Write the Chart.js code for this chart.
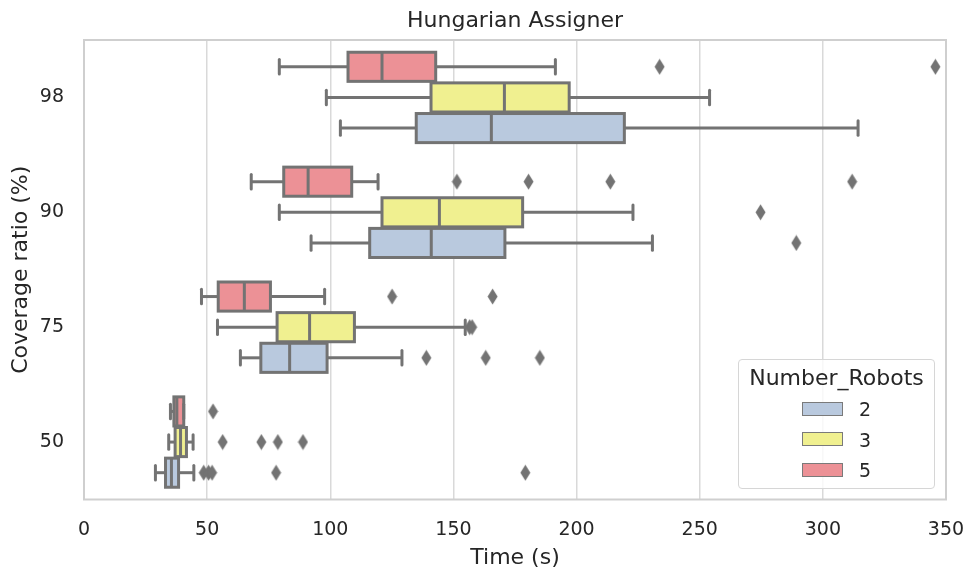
<!DOCTYPE html>
<html>
<head>
<meta charset="utf-8">
<script src="https://cdn.jsdelivr.net/npm/chart.js@4.4.0/dist/chart.umd.min.js"></script>
<style>
html, body { margin: 0; padding: 0; background: #fff; }
#wrap { position: relative; width: 968px; height: 571px; }
#legend {
    position: absolute; left: 738px; top: 359px; width: 195px; height: 128px;
    border: 1px solid #d6d6d6; border-radius: 4px; background: rgba(255,255,255,0.8);
    font-family: "DejaVu Sans"; color: #262626;
}
#legend .title { position: absolute; left: 0; right: 0; top: 5px; text-align: center; font-size: 22px; line-height: 26px; }
#legend .row { position: absolute; left: 0; height: 30px; font-size: 19px; }
#legend .sw { position: absolute; left: 63px; top: 7.5px; width: 39px; height: 12px; border: 1.5px solid #7a7a7a; }
#legend .lab { position: absolute; left: 120px; line-height: 30px; }
</style>
</head>
<body>
<div id="wrap">
<canvas id="chart" width="968" height="571"></canvas>
<div id="legend"><div class="title">Number_Robots</div></div>
</div>
<script>
const coverage = ['98', '90', '75', '50'];
const robots = ['2', '3', '5'];

// one value per coverage level (98, 90, 75, 50)
const lo2 = [104.1, 92.2, 63.5, 29.0];
const q1_2 = [134.9, 116.0, 71.8, 33.1];
const med2 = [165.4, 141.0, 83.5, 35.5];
const q3_2 = [219.4, 170.9, 98.7, 38.4];
const hi2 = [314.3, 230.8, 129.1, 44.6];
const out2 = [[], [289.2], [139.0, 163.1, 185.1], [48.6, 50.6, 52.0, 78.0, 179.2]];

const lo3 = [98.4, 79.3, 54.2, 34.4];
const q1_3 = [140.9, 121.0, 78.4, 37.0];
const med3 = [170.7, 144.3, 91.6, 39.2];
const q3_3 = [197.0, 178.1, 109.8, 41.6];
const hi3 = [254.0, 222.9, 154.8, 44.3];
const out3 = [[], [274.7], [156.6, 157.6], [56.3, 72.0, 78.7, 88.9]];

const lo5 = [79.3, 67.9, 47.7, 35.1];
const q1_5 = [107.2, 81.1, 54.5, 36.5];
const med5 = [121.0, 91.0, 65.1, 37.7];
const q3_5 = [142.8, 108.7, 75.7, 40.5];
const hi5 = [191.4, 119.4, 97.7, 40.5];
const out5 = [[233.7, 345.7], [151.4, 180.5, 213.7, 311.9], [125.1, 165.9], [52.4]];

const xTicks = [0, 50, 100, 150, 200, 250, 300, 350];

const colors = { '2': '#b9c9de', '3': '#f0f090', '5': '#ec9196' };
const gray = '#737373';
const textColor = '#262626';

// top to bottom inside each coverage group: 5, 3, 2
const groups = [
    { name: '5', lo: lo5, q1: q1_5, med: med5, q3: q3_5, hi: hi5, out: out5, off: -0.8 / 3 },
    { name: '3', lo: lo3, q1: q1_3, med: med3, q3: q3_3, hi: hi3, out: out3, off: 0 },
    { name: '2', lo: lo2, q1: q1_2, med: med2, q3: q3_2, hi: hi2, out: out2, off: 0.8 / 3 }
];

// thin diamond marker like seaborn's fliers
const dia = document.createElement('canvas');
dia.width = 11; dia.height = 17;
const dctx = dia.getContext('2d');
dctx.fillStyle = gray;
dctx.beginPath();
dctx.moveTo(5.5, 0.5); dctx.lineTo(10.5, 8.5); dctx.lineTo(5.5, 16.5); dctx.lineTo(0.5, 8.5);
dctx.closePath();
dctx.fill();

const datasets = [];
groups.forEach(g => {
    datasets.push({
        label: g.name,
        data: coverage.map((c, i) => ({ x: [g.q1[i], g.q3[i]], y: i + g.off })),
        backgroundColor: colors[g.name],
        borderWidth: 0,
        grouped: false,
        categoryPercentage: 1,
        barPercentage: 0.95
    });
});
groups.forEach(g => {
    const pts = [];
    g.out.forEach((list, i) => list.forEach(v => pts.push({ x: v, y: i + g.off })));
    datasets.push({
        type: 'scatter',
        label: g.name + ' outliers',
        data: pts,
        pointStyle: dia,
        pointRadius: 6
    });
});

function line(ctx, x1, y1, x2, y2) {
    ctx.beginPath(); ctx.moveTo(x1, y1); ctx.lineTo(x2, y2); ctx.stroke();
}

const boxPlugin = {
    id: 'boxes',
    beforeDatasetsDraw(chart) {
        const a = chart.chartArea, ctx = chart.ctx;
        ctx.save();
        ctx.strokeStyle = '#cfcfcf';
        ctx.lineWidth = 2;
        ctx.strokeRect(a.left, a.top, a.right - a.left, a.bottom - a.top);
        ctx.restore();
    },
    afterDatasetsDraw(chart) {
        const ctx = chart.ctx, xs = chart.scales.x;
        ctx.save();
        ctx.strokeStyle = gray;
        ctx.lineWidth = 3;
        groups.forEach((g, di) => {
            chart.getDatasetMeta(di).data.forEach((bar, i) => {
                const yc = bar.y, h = bar.height;
                const xlo = xs.getPixelForValue(g.lo[i]);
                const xq1 = xs.getPixelForValue(g.q1[i]);
                const xmed = xs.getPixelForValue(g.med[i]);
                const xq3 = xs.getPixelForValue(g.q3[i]);
                const xhi = xs.getPixelForValue(g.hi[i]);
                ctx.lineCap = 'butt';
                line(ctx, xlo, yc, xq1, yc);
                line(ctx, xq3, yc, xhi, yc);
                ctx.strokeRect(xq1, yc - h / 2, xq3 - xq1, h);
                line(ctx, xmed, yc - h / 2, xmed, yc + h / 2);
                ctx.lineCap = 'round';
                line(ctx, xlo, yc - h / 4, xlo, yc + h / 4);
                line(ctx, xhi, yc - h / 4, xhi, yc + h / 4);
            });
        });
        ctx.restore();
    }
};

const ctx = document.getElementById('chart');
new Chart(ctx, {
    type: 'bar',
    data: { datasets: datasets },
    options: {
        responsive: false,
        animation: false,
        indexAxis: 'y',
        layout: { padding: { left: 0, right: 22, top: 0, bottom: 0 } },
        plugins: {
            legend: { display: false },
            tooltip: { enabled: false },
            title: {
                display: true,
                text: 'Hungarian Assigner',
                fullSize: false,
                color: textColor,
                font: { family: 'DejaVu Sans', size: 22, weight: 'normal' },
                padding: { top: 8.5, bottom: 5.1 }
            }
        },
        scales: {
            x: {
                type: 'linear',
                min: 0,
                max: 350,
                afterBuildTicks: s => { s.ticks = xTicks.map(v => ({ value: v })); },
                grid: { color: '#d9d9d9', lineWidth: 1.5, drawTicks: false },
                border: { display: false },
                ticks: { color: textColor, padding: 19, font: { family: 'DejaVu Sans', size: 19 } },
                title: {
                    display: true, text: 'Time (s)', color: textColor,
                    font: { family: 'DejaVu Sans', size: 22 }, padding: { top: 0, bottom: 0 }
                },
                afterFit: s => { s.height = 71.5; s.paddingLeft = 0; s.paddingRight = 0; }
            },
            y: {
                type: 'linear',
                min: -0.5,
                max: 3.5,
                reverse: true,
                offset: false,
                afterBuildTicks: s => { s.ticks = coverage.map((c, i) => ({ value: i })); },
                grid: { display: false, drawTicks: false },
                border: { display: false },
                ticks: {
                    color: textColor, padding: 20, font: { family: 'DejaVu Sans', size: 19 },
                    callback: v => coverage[v]
                },
                title: {
                    display: true, text: 'Coverage ratio (%)', color: textColor,
                    font: { family: 'DejaVu Sans', size: 22 }, padding: { top: 8, bottom: 0 }
                },
                afterFit: s => { s.width = 84; }
            }
        }
    },
    plugins: [boxPlugin]
});

// legend, in the order 2, 3, 5
const leg = document.getElementById('legend');
robots.forEach((r, k) => {
    const row = document.createElement('div');
    row.className = 'row';
    row.style.top = (34 + k * 30.5) + 'px';
    row.style.width = '100%';
    row.innerHTML = '<span class="sw" style="background:' + colors[r] + '"></span><span class="lab">' + r + '</span>';
    leg.appendChild(row);
});
</script>
</body>
</html>
